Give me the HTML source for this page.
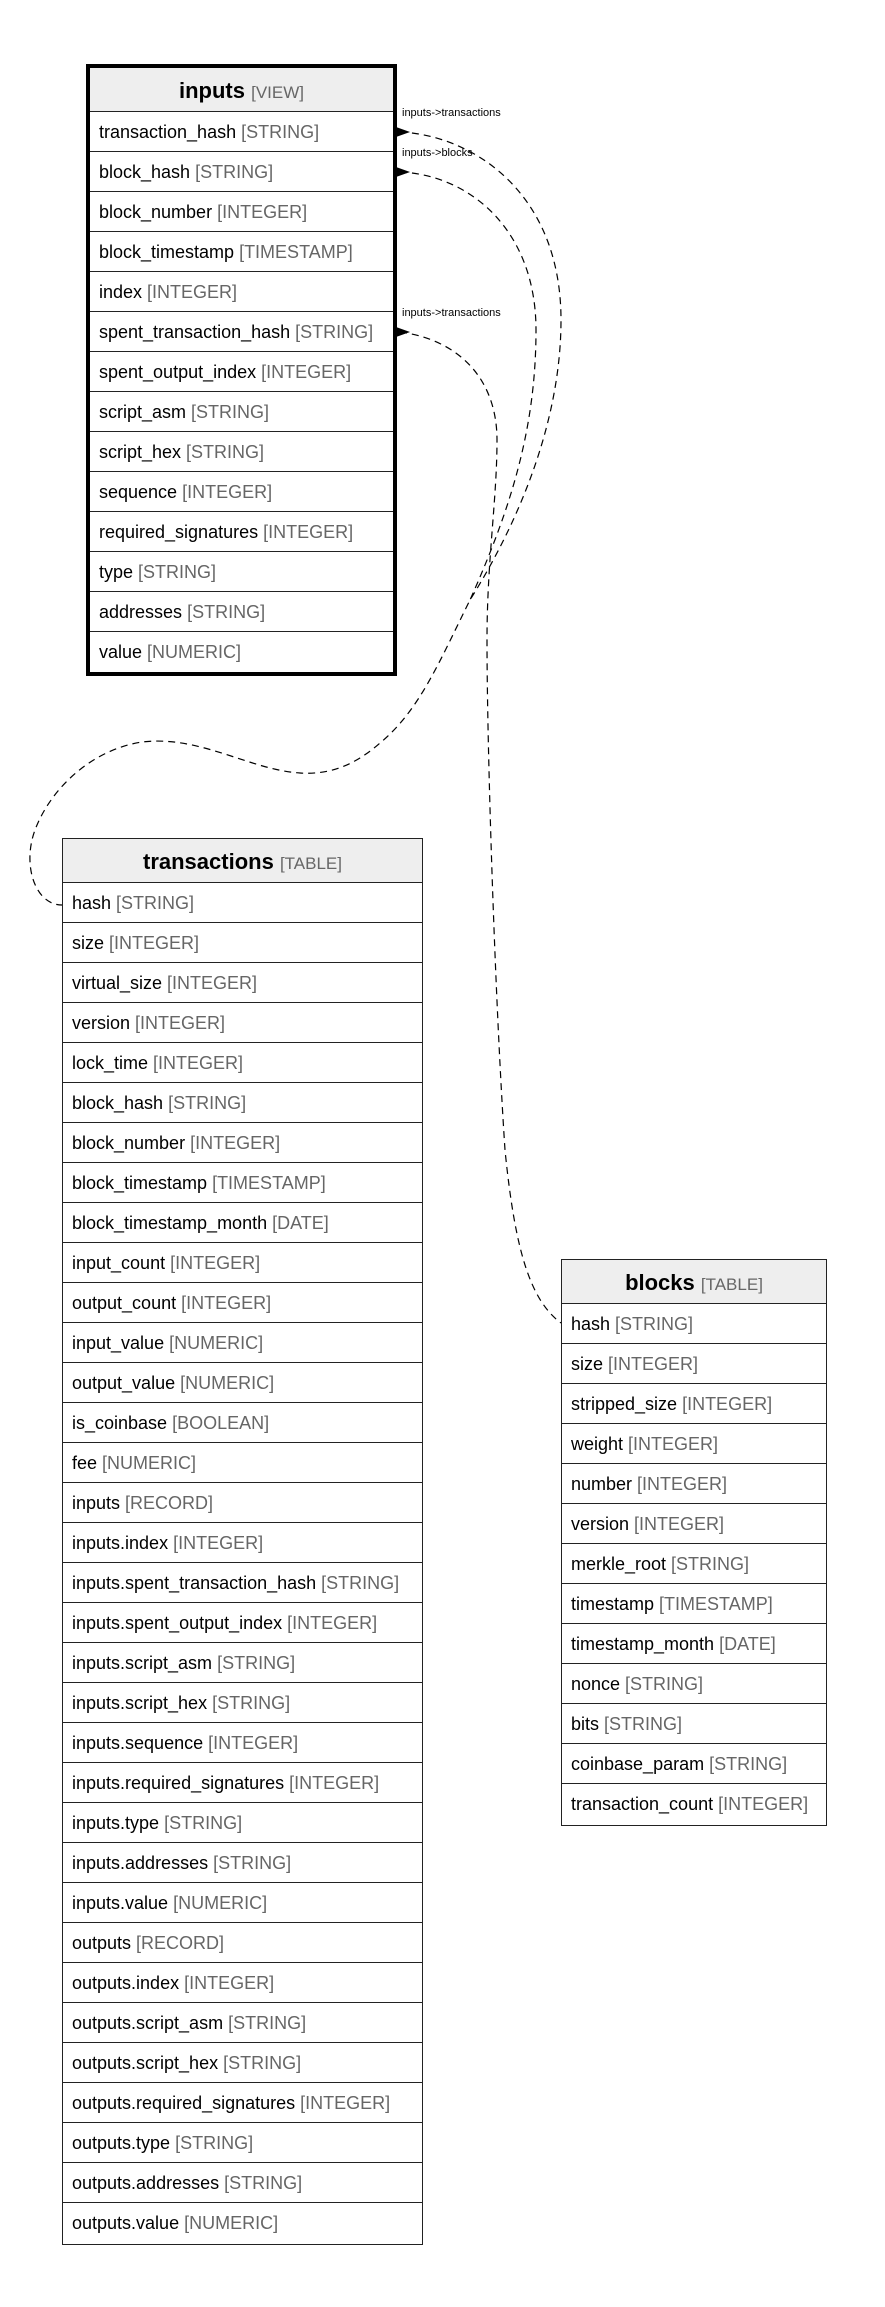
<!DOCTYPE html>
<html><head><meta charset="utf-8"><style>
body{margin:0;width:885px;height:2307px;background:#fff;position:relative;font-family:"Liberation Sans",Arial,sans-serif;overflow:hidden}
.t{position:absolute;background:#fff;border:1.5px solid #222;box-sizing:border-box}
.t.v{border:4px solid #000}
.h{height:44px;background:#eee;text-align:center;font-size:22px;font-weight:bold;line-height:46px;border-bottom:1px solid #222;box-sizing:border-box}
.h span{font-weight:normal;font-size:17px;color:#666}
.r{height:40px;line-height:40px;font-size:18px;padding-left:9px;border-bottom:1px solid #222;box-sizing:border-box;white-space:nowrap}
.r:last-child{border-bottom:none}
.r span{color:#666}
svg{position:absolute;left:0;top:0}
.l{position:absolute;font-size:11px;color:#000}
</style></head><body>
<svg width="885" height="2307">
<g fill="none" stroke="#000" stroke-width="1.2" stroke-dasharray="7,5">
<path d="M400,132 C470,135 561,190 561,320 C561,420 520,520 470,600 C440,660 420,710 380,743 C355,765 330,775 300,773 C250,770 200,735 142,742 C90,750 50,790 35,830 C22,865 35,905 62,905"/>
<path d="M400,172 C470,175 536,230 536,330 C536,430 510,510 470,600"/>
<path d="M400,332 C460,340 497,380 497,440 C497,500 487,560 487,640 C487,750 495,1000 505,1150 C515,1250 530,1300 561,1323"/>
</g>
<polygon points="396,127 410,132 396,137" fill="#000"/>
<polygon points="396,167 410,172 396,177" fill="#000"/>
<polygon points="396,327 410,332 396,337" fill="#000"/>
</svg>
<div class="l" style="left:402px;top:107px">inputs-&gt;transactions</div>
<div class="l" style="left:402px;top:147px">inputs-&gt;blocks</div>
<div class="l" style="left:402px;top:307px">inputs-&gt;transactions</div>

<div class="t v" style="left:86px;top:64px;width:311px;height:612px">
<div class="h">inputs <span>[VIEW]</span></div>
<div class="r">transaction_hash <span>[STRING]</span></div>
<div class="r">block_hash <span>[STRING]</span></div>
<div class="r">block_number <span>[INTEGER]</span></div>
<div class="r">block_timestamp <span>[TIMESTAMP]</span></div>
<div class="r">index <span>[INTEGER]</span></div>
<div class="r">spent_transaction_hash <span>[STRING]</span></div>
<div class="r">spent_output_index <span>[INTEGER]</span></div>
<div class="r">script_asm <span>[STRING]</span></div>
<div class="r">script_hex <span>[STRING]</span></div>
<div class="r">sequence <span>[INTEGER]</span></div>
<div class="r">required_signatures <span>[INTEGER]</span></div>
<div class="r">type <span>[STRING]</span></div>
<div class="r">addresses <span>[STRING]</span></div>
<div class="r">value <span>[NUMERIC]</span></div>
</div>

<div class="t" style="left:62px;top:838px;width:361px;height:1407px">
<div class="h">transactions <span>[TABLE]</span></div>
<div class="r">hash <span>[STRING]</span></div>
<div class="r">size <span>[INTEGER]</span></div>
<div class="r">virtual_size <span>[INTEGER]</span></div>
<div class="r">version <span>[INTEGER]</span></div>
<div class="r">lock_time <span>[INTEGER]</span></div>
<div class="r">block_hash <span>[STRING]</span></div>
<div class="r">block_number <span>[INTEGER]</span></div>
<div class="r">block_timestamp <span>[TIMESTAMP]</span></div>
<div class="r">block_timestamp_month <span>[DATE]</span></div>
<div class="r">input_count <span>[INTEGER]</span></div>
<div class="r">output_count <span>[INTEGER]</span></div>
<div class="r">input_value <span>[NUMERIC]</span></div>
<div class="r">output_value <span>[NUMERIC]</span></div>
<div class="r">is_coinbase <span>[BOOLEAN]</span></div>
<div class="r">fee <span>[NUMERIC]</span></div>
<div class="r">inputs <span>[RECORD]</span></div>
<div class="r">inputs.index <span>[INTEGER]</span></div>
<div class="r">inputs.spent_transaction_hash <span>[STRING]</span></div>
<div class="r">inputs.spent_output_index <span>[INTEGER]</span></div>
<div class="r">inputs.script_asm <span>[STRING]</span></div>
<div class="r">inputs.script_hex <span>[STRING]</span></div>
<div class="r">inputs.sequence <span>[INTEGER]</span></div>
<div class="r">inputs.required_signatures <span>[INTEGER]</span></div>
<div class="r">inputs.type <span>[STRING]</span></div>
<div class="r">inputs.addresses <span>[STRING]</span></div>
<div class="r">inputs.value <span>[NUMERIC]</span></div>
<div class="r">outputs <span>[RECORD]</span></div>
<div class="r">outputs.index <span>[INTEGER]</span></div>
<div class="r">outputs.script_asm <span>[STRING]</span></div>
<div class="r">outputs.script_hex <span>[STRING]</span></div>
<div class="r">outputs.required_signatures <span>[INTEGER]</span></div>
<div class="r">outputs.type <span>[STRING]</span></div>
<div class="r">outputs.addresses <span>[STRING]</span></div>
<div class="r">outputs.value <span>[NUMERIC]</span></div>
</div>

<div class="t" style="left:561px;top:1259px;width:266px;height:567px">
<div class="h">blocks <span>[TABLE]</span></div>
<div class="r">hash <span>[STRING]</span></div>
<div class="r">size <span>[INTEGER]</span></div>
<div class="r">stripped_size <span>[INTEGER]</span></div>
<div class="r">weight <span>[INTEGER]</span></div>
<div class="r">number <span>[INTEGER]</span></div>
<div class="r">version <span>[INTEGER]</span></div>
<div class="r">merkle_root <span>[STRING]</span></div>
<div class="r">timestamp <span>[TIMESTAMP]</span></div>
<div class="r">timestamp_month <span>[DATE]</span></div>
<div class="r">nonce <span>[STRING]</span></div>
<div class="r">bits <span>[STRING]</span></div>
<div class="r">coinbase_param <span>[STRING]</span></div>
<div class="r">transaction_count <span>[INTEGER]</span></div>
</div>
</body></html>
